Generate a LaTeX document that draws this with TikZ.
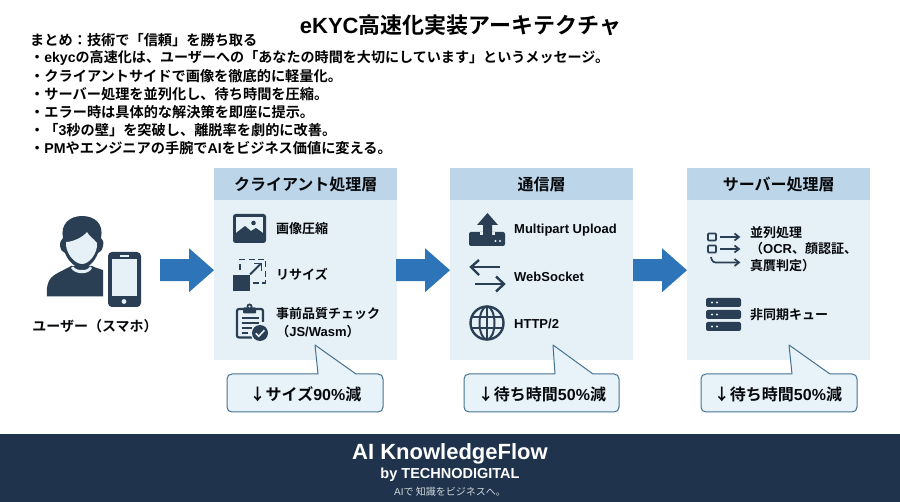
\documentclass[tikz,border=0pt]{standalone}
\usepackage{fontspec}
\setmainfont{Noto Sans CJK JP}[BoldFont={Noto Sans CJK JP Bold}]
\newfontfamily\lat{Liberation Sans}
\usetikzlibrary{calc,positioning}
\definecolor{ink}{HTML}{2A3F54}
\definecolor{navy}{HTML}{1F344C}
\definecolor{headblue}{HTML}{BCD5E9}
\definecolor{bodyblue}{HTML}{E6F0F7}
\definecolor{calloutfill}{HTML}{E8F2F9}
\definecolor{calloutline}{HTML}{44718F}
\definecolor{flowblue}{HTML}{2E74B8}
\newcommand{\fsz}[1]{\fontsize{#1}{#1}\selectfont}
\tikzset{
  panelbody/.style={fill=bodyblue,draw=none,inner sep=0pt,minimum width=183pt,minimum height=160pt,anchor=north west},
  panelhead/.style={fill=headblue,draw=none,inner sep=0pt,minimum width=183pt,minimum height=32pt,anchor=north west,font=\bfseries\fsz{16},text=black!85!ink},
  sumline/.style={anchor=west,inner sep=0pt,font=\bfseries\fsz{14.2},text=black},
  itemtext/.style={anchor=west,inner sep=0pt,font=\bfseries\fsz{13},text=black!85!ink},
  callouttext/.style={inner sep=0pt,font=\bfseries\fsz{16},text=black!85!ink},
  calloutshape/.style={fill=calloutfill,draw=calloutline,line width=1pt,line join=round},
  flowarrow/.style={fill=flowblue,draw=none}
}
% tail-tip x, base-left x, base-right x, box left, box right
\newcommand{\calloutbox}[5]{%
  \draw[calloutshape] (#4+5,374) -- (#2,374) -- (#1,345) -- (#3,374) -- (#5-5,374)
    .. controls (#5-2,374) and (#5,376) .. (#5,379) -- (#5,407)
    .. controls (#5,410) and (#5-2,412) .. (#5-5,412) -- (#4+5,412)
    .. controls (#4+2,412) and (#4,410) .. (#4,407) -- (#4,379)
    .. controls (#4,376) and (#4+2,374) .. (#4+5,374) -- cycle;}
\newcommand{\blockarrow}[1]{%
  \fill[flowarrow] ([yshift=10pt]#1.west) -- ++(-25,-22) -- ++(0,11) -- ++(-29,0) -- ++(0,22) -- ++(29,0) -- ++(0,11) -- cycle;}
\begin{document}
\begin{tikzpicture}[x=1pt,y=-1pt]
\useasboundingbox (0,0) rectangle (900,502);
\fill[white] (0,0) rectangle (900,502);

% title
\node[inner sep=0pt,font=\bfseries\fsz{22},text=black] (title) at (460.5,25) {{\lat eKYC}高速化実装アーキテクチャ};

% summary
\node[sumline] (s0) at (30,40) {まとめ：技術で「信頼」を勝ち取る};
\node[sumline,font=\bfseries\fsz{14.08}] (s1) at (30,58) {・{\lat ekyc}の高速化は、ユーザーへの「あなたの時間を大切にしています」というメッセージ。};
\node[sumline] (s2) at (30,76.5) {・クライアントサイドで画像を徹底的に軽量化。};
\node[sumline] (s3) at (30,94.5) {・サーバー処理を並列化し、待ち時間を圧縮。};
\node[sumline] (s4) at (30,112.5) {・エラー時は具体的な解決策を即座に提示。};
\node[sumline] (s5) at (30,130.5) {・「{\lat 3}秒の壁」を突破し、離脱率を劇的に改善。};
\node[sumline] (s6) at (30,148.5) {・{\lat PM}やエンジニアの手腕で{\lat AI}をビジネス価値に変える。};

% panels
\node[panelbody] (p1) at (214,200) {};
\node[panelhead] (h1) at (214,168) {クライアント処理層};
\node[panelbody] (p2) at (450,200) {};
\node[panelhead] (h2) at (450,168) {通信層};
\node[panelbody] (p3) at (687,200) {};
\node[panelhead] (h3) at (687,168) {サーバー処理層};

% user
\fill[ink] (47,296.5) .. controls (46,284) and (49,278) .. (56,274) .. controls (61,271) and (66,269) .. (71,266) -- (92,266) .. controls (96,268) and (100,269) .. (103,270) -- (103,296.5) -- cycle;
\fill[ink] (60,246) .. controls (60,242) and (61,240) .. (63,238) .. controls (60,224) and (70,216) .. (82,216) .. controls (95,216) and (104,224) .. (101,238) .. controls (103,240) and (104,242) .. (103,246) .. controls (102,251) and (100,252) .. (98,253) .. controls (95,261) and (89,268) .. (82,268) .. controls (75,268) and (68,261) .. (65,253) .. controls (62,252) and (61,250) .. (60,246) -- cycle;
\fill[bodyblue] (66,242) .. controls (72,242) and (82,238) .. (87,232) .. controls (89,236) and (93,238) .. (97,243) .. controls (98,252) and (90,264) .. (82,264) .. controls (74,264) and (65,252) .. (66,242) -- cycle;
\fill[bodyblue] (73,266.5) .. controls (76,269.5) and (78,270) .. (82,270) .. controls (86,270) and (88,269.5) .. (90,266.5) -- (92,268) .. controls (89,275) and (75,275) .. (71,268) -- cycle;
\fill[ink,rounded corners=4pt] (108,252) rectangle (141,307);
\fill[bodyblue] (112,259.5) rectangle (137,296);
\fill[bodyblue] (120,254.8) rectangle (128.5,256.6);
\fill[bodyblue] (124,301.5) circle (2.4);
\node[inner sep=0pt,font=\bfseries\fsz{14},text=black!85!ink] (ulabel) at (95,326) {ユーザー（スマホ）};

% flow arrows
\blockarrow{p1}
\blockarrow{p2}
\blockarrow{p3}

% panel 1 icons
\fill[ink,rounded corners=2.5pt] (233,214) rectangle (266,243);
\fill[bodyblue] (236,217) rectangle (263,236);
\fill[ink] (236,236.5) -- (236,233) -- (245,226) -- (251,231) -- (256,228) -- (263,233) -- (263,236.5) -- cycle;
\fill[ink] (253.5,223) circle (2.3);
\node[itemtext] (t11) at (276,229) {画像圧縮};

\fill[ink] (233,275) rectangle (250,291);
\draw[ink,line width=1.8pt,dash pattern=on 6pt off 3.5pt] (240,270) -- (240,259.5) -- (265.5,259.5) -- (265.5,283) -- (252,283);
\draw[ink,line width=1.8pt] (250,274.5) -- (261,263.5);
\draw[ink,line width=1.8pt] (254,263.5) -- (261.5,263.5) -- (261.5,271);
\node[itemtext] (t12) at (276,274) {リサイズ};

\draw[ink,line width=2.2pt,rounded corners=2pt] (244,309) -- (237,309) -- (237,337.5) -- (252,337.5);
\draw[ink,line width=2.2pt,rounded corners=2pt] (255,309) -- (263,309) -- (263,322);
\fill[ink,rounded corners=1pt] (243,307.5) rectangle (256,313.5);
\fill[ink] (249.5,306.5) circle (3);
\fill[bodyblue] (249.5,306.5) circle (1.1);
\draw[ink,line width=1.7pt] (241.5,318) -- (258.5,318) (241.5,323) -- (258.5,323) (241.5,328) -- (252,328) (241.5,333) -- (248,333);
\fill[bodyblue] (260,333) circle (9.3);
\fill[ink] (260,333) circle (8);
\draw[bodyblue,line width=1.6pt] (255.8,333.2) -- (258.8,336.2) -- (264.4,330.2);
\node[itemtext] (t13) at (276,314) {事前品質チェック};
\node[inner sep=0pt,font=\bfseries\fsz{13},text=black!85!ink] (t14) at (318,332) {（{\lat JS/Wasm}）};

% panel 2 icons
\fill[ink,rounded corners=2pt] (469,232) rectangle (505,246);
\fill[bodyblue] (480,232) rectangle (495,235);
\fill[ink] (487.5,213) -- (498,225) -- (492,225) -- (492,237) -- (483,237) -- (483,225) -- (477,225) -- cycle;
\fill[bodyblue] (495.5,241) circle (1.1) (500,241) circle (1.1);
\node[itemtext] (t21) at (514,230) {\lat Multipart Upload};

\draw[ink,line width=2.4pt] (500,267) -- (471,267);
\draw[ink,line width=2.4pt] (479,260) -- (471,267) -- (479,275);
\draw[ink,line width=2.4pt] (475,284) -- (504,284);
\draw[ink,line width=2.4pt] (496,276.5) -- (504,284) -- (496,291.5);
\node[itemtext] (t22) at (514,277) {\lat WebSocket};

\draw[ink,line width=2.4pt] (487,323) circle (16.5);
\draw[ink,line width=2pt] (487,323) ellipse (7.5 and 16.5);
\draw[ink,line width=2pt] (487,306.5) -- (487,339.5);
\draw[ink,line width=2pt] (471,317.5) -- (503,317.5) (471,328.5) -- (503,328.5);
\node[itemtext] (t23) at (514,324) {\lat HTTP/2};

% panel 3 icons
\draw[ink,line width=1.6pt,rounded corners=.8pt] (708,233.5) rectangle (716,240.5);
\draw[ink,line width=1.6pt,rounded corners=.8pt] (708,245.5) rectangle (716,252.5);
\draw[ink,line width=1.7pt] (720,237) -- (738.5,237);
\draw[ink,line width=1.7pt] (734.5,233.5) -- (739,237) -- (734.5,240.5);
\draw[ink,line width=1.7pt] (720,249) -- (738.5,249);
\draw[ink,line width=1.7pt] (734.5,245.5) -- (739,249) -- (734.5,252.5);
\draw[ink,line width=1.7pt,rounded corners=3pt] (711,257) -- (712.5,262.5) -- (738.5,262.5);
\draw[ink,line width=1.7pt] (734.5,259) -- (739,262.5) -- (734.5,266);
\node[itemtext] (t31) at (750,233) {並列処理};
\node[itemtext] (t32) at (750,249) {（{\lat OCR}、顔認証、};
\node[itemtext] (t33) at (750,266) {真贋判定）};

\foreach \yy in {298,310,322}{
  \fill[ink,rounded corners=2pt] (706,\yy) rectangle (741,\yy+9);
  \fill[bodyblue] (712,\yy+4.5) circle (1.2) (717,\yy+4.5) circle (1.2);
}
\node[itemtext] (t34) at (750,315) {非同期キュー};

% callouts
\calloutbox{315}{318}{356}{227}{383}
\node[callouttext] (c1) at (305.5,394) {↓サイズ{\lat 90\%}減};
\calloutbox{553}{555}{593}{464}{619}
\node[callouttext] (c2) at (542,394) {↓待ち時間{\lat 50\%}減};
\calloutbox{789}{792}{830}{701}{857}
\node[callouttext] (c3) at (778,394) {↓待ち時間{\lat 50\%}減};

% footer
\fill[navy] (0,434) rectangle (900,502);
\node[inner sep=0pt,font=\bfseries\fsz{22},text=white] (f1) at (450,454) {\lat AI KnowledgeFlow};
\node[inner sep=0pt,font=\bfseries\fsz{14.5},text=white] (f2) at (450,475) {\lat by TECHNODIGITAL};
\node[inner sep=0pt,font=\fsz{10},text=white!80!navy] (f3) at (450,492) {{\lat AI}で 知識をビジネスへ。};
\end{tikzpicture}
\end{document}
